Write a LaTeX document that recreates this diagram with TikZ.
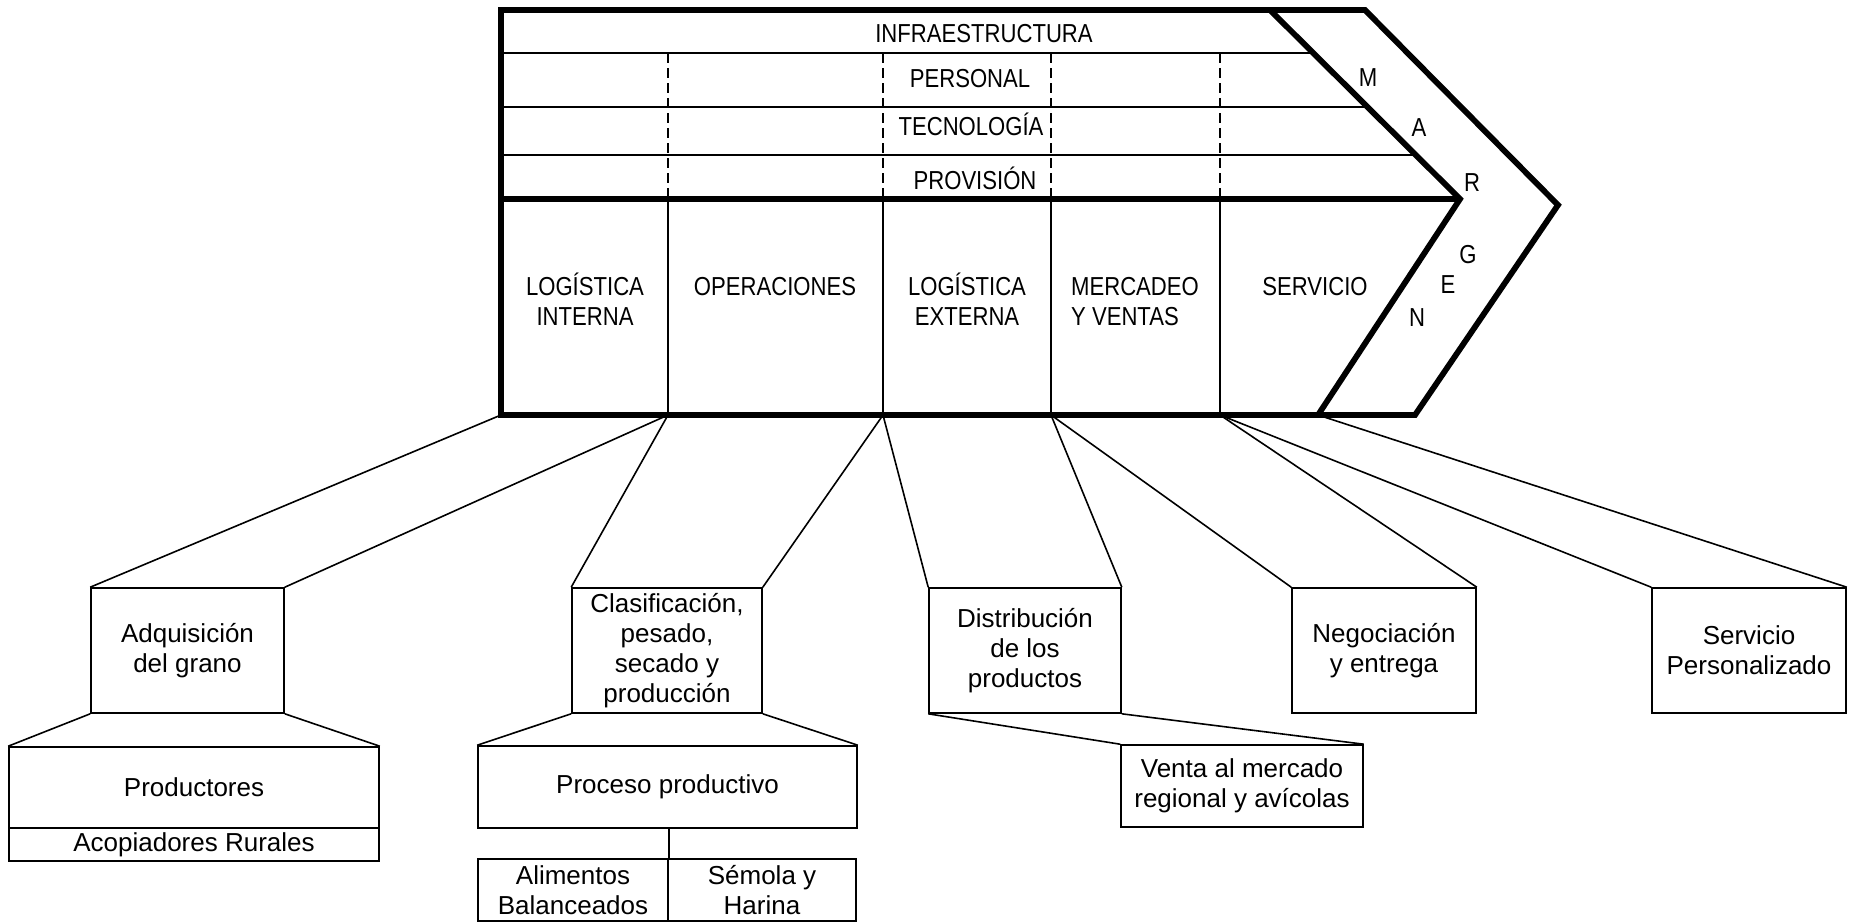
\documentclass[tikz,border=0pt]{standalone}
\usepackage{fontspec}
\setmainfont{Liberation Sans}
\newfontfamily\narrowsf[FakeStretch=0.85]{Liberation Sans}
\usepackage{tikz}
\usetikzlibrary{calc}

\tikzset{
    caja/.style={draw, line width=1.6pt, inner sep=0pt, align=center,
        font=\fontsize{26}{30}\selectfont},
    eslabon/.style={inner sep=0pt, font=\narrowsf\fontsize{26}{30}\selectfont},
    linea/.style={line width=1.6pt},
    guiones/.style={line width=1.6pt, dash pattern=on 10pt off 5pt},
    grueso/.style={line width=5.8pt, line join=miter}
}

\begin{document}
\begin{tikzpicture}[x=1pt, y=-1pt]
        \useasboundingbox (0,0) rectangle (1849,922);
        % cadena de valor
        \foreach \y in {53,107,155}
        \draw[linea] (501,\y) -- ({1260+\y},\y);
        \foreach \x in {668,883,1051,1220} {
            \draw[guiones] (\x,53) -- (\x,199);
            \draw[linea] (\x,199) -- (\x,415);
        }
        \foreach \i/\x in {0/501,1/668,2/883,3/1051,4/1220,5/1318}
        \coordinate (b\i) at (\x,415);
        \draw[grueso] (501,10) -- (1365,10) -- (1558,205) -- (1415,415) -- (501,415) -- cycle;
        \draw[grueso] (1270,10) -- (1460,199) -- (b5);
        \draw[grueso] (501,199) -- (1460,199);

        \node[eslabon, anchor=base] (infra) at (984,42) {INFRAESTRUCTURA};
        \node[eslabon, anchor=base] (pers) at (970,87) {PERSONAL};
        \node[eslabon, anchor=base] (tec) at (971,135) {TECNOLOGÍA};
        \node[eslabon, anchor=base] (prov) at (975,189) {PROVISIÓN};
        \node[eslabon, align=center, anchor=base] (login) at (585,325) {LOGÍSTICA\\INTERNA};
        \node[eslabon, anchor=base] (oper) at (775,295) {OPERACIONES};
        \node[eslabon, align=center, anchor=base] (logex) at (967,325) {LOGÍSTICA\\EXTERNA};
        \node[eslabon, align=left, anchor=base] (merc) at (1135,325) {MERCADEO\\Y VENTAS};
        \node[eslabon, anchor=base] (servi) at (1315,295) {SERVICIO};
        \foreach \l/\x/\y in {M/1368/78,A/1419/128,R/1472/183,G/1468/255,E/1448/285,N/1417/318}
        \node[eslabon] (m\l) at (\x,\y) {\l};

        % actividades
        \node[caja, minimum width=193pt, minimum height=125pt] (adq) at (187.5,650.5) {Adquisición\\del grano};
        \node[caja, minimum width=370pt, minimum height=81pt] (prod) at (194,787.5) {Productores};
        \node[caja, minimum width=370pt, minimum height=33pt] (acop) at (194,844.5) {Acopiadores Rurales};
        \node[caja, minimum width=190pt, minimum height=125pt] (clas) at (667,650.5) {Clasificación,\\pesado,\\secado y\\producción};
        \node[caja, minimum width=379pt, minimum height=82pt] (proc) at (667.5,787) {Proceso productivo};
        \node[caja, minimum width=190pt, minimum height=62pt] (alim) at (573,890) {Alimentos\\Balanceados};
        \node[caja, minimum width=188pt, minimum height=62pt] (sem) at (762,890) {Sémola y\\Harina};
        \node[caja, minimum width=192pt, minimum height=125pt] (dist) at (1025,650.5) {Distribución\\de los\\productos};
        \node[caja, minimum width=242pt, minimum height=82pt] (venta) at (1242,786) {Venta al mercado\\regional y avícolas};
        \node[caja, minimum width=184pt, minimum height=125pt] (nego) at (1384,650.5) {Negociación\\y entrega};
        \node[caja, minimum width=194pt, minimum height=125pt] (serv) at (1749,650.5) {Servicio\\Personalizado};

        \foreach \a/\b/\n in {0/1/adq,1/2/clas,2/3/dist,3/4/nego,4/5/serv} {
            \draw[linea] (b\a) -- (\n.north west);
            \draw[linea] (b\b) -- (\n.north east);
        }
        \foreach \m/\n in {adq/prod,clas/proc,dist/venta} {
            \draw[linea] (\m.south west) -- (\n.north west);
            \draw[linea] (\m.south east) -- (\n.north east);
        }
        \draw[linea] (alim.north east |- proc.south) -- (alim.north east);
\end{tikzpicture}
\end{document}
